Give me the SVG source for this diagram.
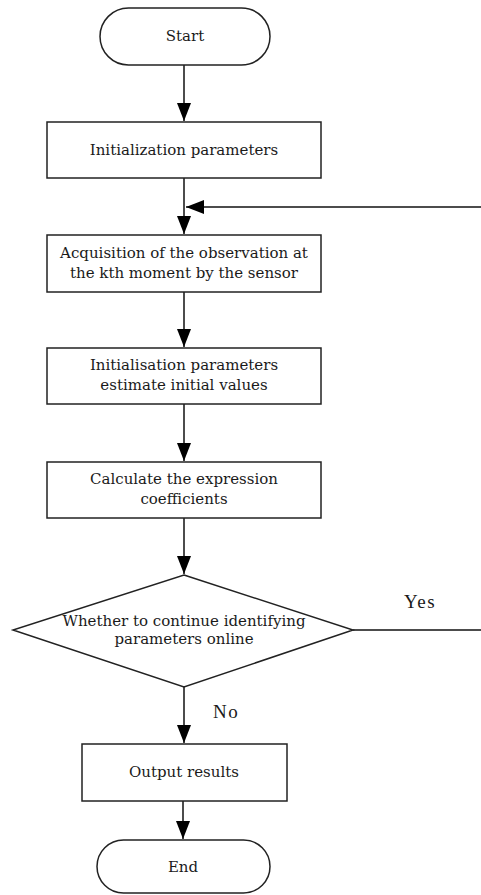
<svg xmlns="http://www.w3.org/2000/svg" width="481" height="895" viewBox="0 0 481 895">
<style>
.shape{fill:#fff;stroke:#222;stroke-width:1.5}
.t{font-family:"DejaVu Serif","Liberation Serif",serif;font-size:15px;fill:#1a1a1a;text-anchor:middle}
.lbl{font-family:"Liberation Serif","DejaVu Serif",serif;font-size:19px;fill:#1a1a1a;letter-spacing:1.5px}
.c{fill:none;stroke:#111;stroke-width:1.5}
</style>
<defs>
<marker id="ah" viewBox="0 0 18 14" refX="18" refY="7" markerWidth="18" markerHeight="14" markerUnits="userSpaceOnUse" orient="auto">
<path d="M0,0 L18,7 L0,14 Z" fill="#000"/>
</marker>
</defs>
<g id="connectors">
<line class="c" x1="184" y1="65" x2="184" y2="121" marker-end="url(#ah)"/>
<line class="c" x1="184" y1="178" x2="184" y2="234" marker-end="url(#ah)"/>
<line class="c" x1="481" y1="207" x2="186" y2="207" marker-end="url(#ah)"/>
<line class="c" x1="184" y1="292" x2="184" y2="347" marker-end="url(#ah)"/>
<line class="c" x1="184" y1="404" x2="184" y2="461" marker-end="url(#ah)"/>
<line class="c" x1="184" y1="518" x2="184" y2="574" marker-end="url(#ah)"/>
<line class="c" x1="184" y1="687" x2="184" y2="743" marker-end="url(#ah)"/>
<line class="c" x1="183" y1="801" x2="183" y2="839" marker-end="url(#ah)"/>
<line class="c" x1="353" y1="630" x2="481" y2="630"/>
<text class="lbl" x="404" y="608">Yes</text>
<text class="lbl" x="213" y="718">No</text>
</g>
<g id="start">
<rect class="shape" x="100" y="8" width="170" height="57" rx="28.5" ry="28.5"/>
<text class="t" x="185" y="41">Start</text>
</g>
<g id="init">
<rect class="shape" x="47" y="122" width="274" height="56"/>
<text class="t" x="184" y="155">Initialization parameters</text>
</g>
<g id="acquire">
<rect class="shape" x="47" y="235" width="274" height="57"/>
<text class="t" x="184" y="258">Acquisition of the observation at</text>
<text class="t" x="184" y="278">the kth moment by the sensor</text>
</g>
<g id="estimate">
<rect class="shape" x="47" y="348" width="274" height="56"/>
<text class="t" x="184" y="370">Initialisation parameters</text>
<text class="t" x="184" y="390">estimate initial values</text>
</g>
<g id="calc">
<rect class="shape" x="47" y="462" width="274" height="56"/>
<text class="t" x="184" y="484">Calculate the expression</text>
<text class="t" x="184" y="504">coefficients</text>
</g>
<g id="decision">
<polygon class="shape" points="184,575 353,630 184,687 13,630"/>
<text class="t" x="184" y="626">Whether to continue identifying</text>
<text class="t" x="184" y="644">parameters online</text>
</g>
<g id="output">
<rect class="shape" x="82" y="744" width="205" height="57"/>
<text class="t" x="184" y="777">Output results</text>
</g>
<g id="end">
<rect class="shape" x="97" y="840" width="173" height="53" rx="26.5" ry="26.5"/>
<text class="t" x="183" y="872">End</text>
</g>
</svg>
